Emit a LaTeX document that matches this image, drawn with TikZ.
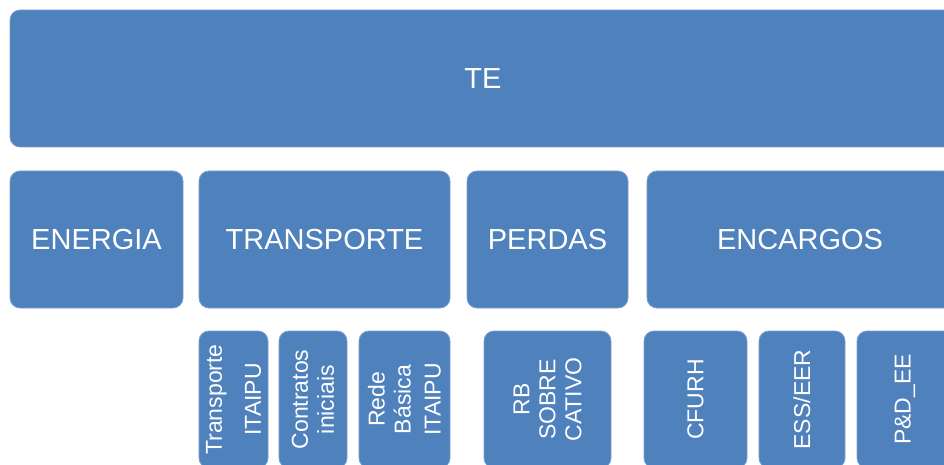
\documentclass[tikz,border=0pt]{standalone}
\usepackage{fontspec}
\setmainfont{Liberation Sans}
\definecolor{azul}{HTML}{4F81BD}
\tikzset{
caixa/.style={fill=azul, draw=azul!75!white, line width=0.8pt, rounded corners=10pt, text=white, inner sep=0pt, font=\fontsize{29}{34}\selectfont},
sub/.style={caixa, rotate=90, align=center, minimum width=137pt, font=\fontsize{23}{26}\selectfont}
}
\begin{document}
\begin{tikzpicture}[x=1pt,y=-1pt]
\useasboundingbox (0,0) rectangle (944,465);
\clip (0,0) rectangle (944,465);
\node(TE)[caixa, minimum width=946pt, minimum height=137pt] at (483,78.5){TE};

\node(Energia)[caixa, minimum width=173pt, minimum height=137pt] at (96.5,239.5){ENERGIA};
\node(Transp)[caixa, minimum width=251pt, minimum height=137pt] at (324.5,239.5){TRANSPORTE};
\node(Perdas)[caixa, minimum width=161pt, minimum height=137pt] at (547.5,239.5){PERDAS};
\node(Encargos)[caixa, minimum width=306pt, minimum height=137pt] at (800,239.5){ENCARGOS};

\node(TranspItaipu)[sub, minimum height=69pt] at (233.5,399.5){Transporte\\[13pt]ITAIPU};
\node(Contratos)[sub, minimum height=68pt] at (313,399.5){Contratos\\iniciais};
\node(RedeBasica)[sub, minimum height=91pt] at (404.5,399.5){Rede\\Básica\\[4pt]ITAIPU};
\node(RBCativo)[sub, minimum height=127pt] at (547.5,399.5){RB\\SOBRE\\CATIVO};
\node(CFURH)[sub, minimum height=103pt] at (695.5,399.5){CFURH};
\node(ESS)[sub, minimum height=86pt] at (802,399.5){ESS/EER};
\node(PDEE)[sub, minimum height=96pt] at (905,399.5){P\&D\_EE};
\end{tikzpicture}
\end{document}
